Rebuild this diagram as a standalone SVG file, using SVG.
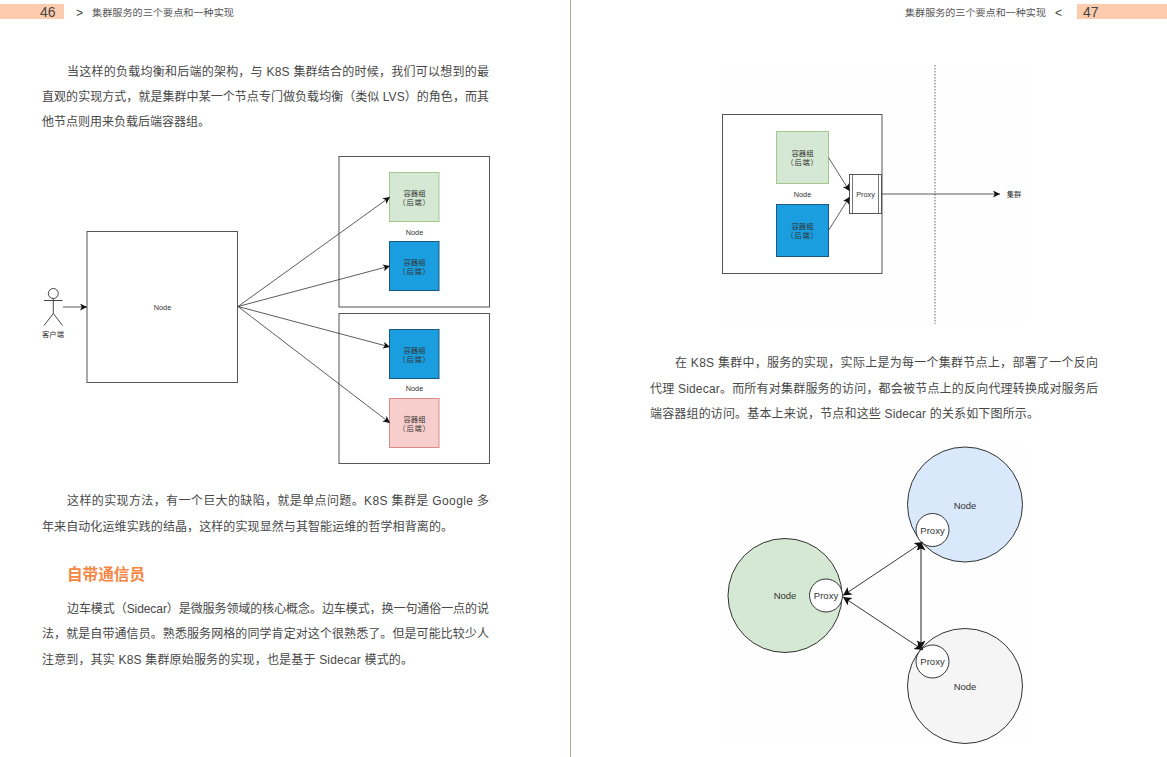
<svg xmlns="http://www.w3.org/2000/svg" width="1167" height="757" viewBox="0 0 1167 757">
<defs>
<marker id="a" markerWidth="8" markerHeight="8" refX="7" refY="3.5" orient="auto-start-reverse" markerUnits="userSpaceOnUse"><path d="M0 0L7 3.5L0 7L1.8 3.5Z" fill="#111"/></marker>
<marker id="m" markerWidth="10" markerHeight="10" refX="8.500" refY="4.500" orient="auto-start-reverse" markerUnits="userSpaceOnUse"><path d="M0 0L8.500 4.500L0 9L2 4.500Z" fill="#111"/></marker>
</defs>
<style>
text{font-family:"Liberation Sans","Noto Sans CJK SC",sans-serif;fill:#444}
.b{font-size:12px;fill:#484848}
.h{font-size:9.500px;fill:#555}
.s{font-size:7.300px;text-anchor:middle;fill:#333}
.p{letter-spacing:.8px}
.n{font-size:7.300px;text-anchor:middle;fill:#333}
.c{font-size:9.500px;text-anchor:middle;fill:#333}
.box{fill:#fff;stroke:#555;stroke-width:1}
.g{fill:#d5e8d4;stroke:#a4c98f;stroke-width:1}
.u{fill:#1a9ee0;stroke:#1a5a80;stroke-width:1}
.r{fill:#f8cecc;stroke:#d98a86;stroke-width:1}
.l{stroke:#333;stroke-width:.8;fill:none;marker-end:url(#a)}
.d{stroke:#222;stroke-width:.9;fill:none;marker-end:url(#m);marker-start:url(#m)}
.ci{stroke:#333;stroke-width:1}
</style>
<rect x="0" y="4" width="64" height="15" fill="#fdcbad"/>
<text x="40" y="17" font-size="14" fill="#555">46</text>
<text x="76" y="17" font-size="12" fill="#555">&gt;</text>
<text class="h" x="92" y="16" textLength="142" lengthAdjust="spacingAndGlyphs">集群服务的三个要点和一种实现</text>
<rect x="1077" y="4" width="90" height="15" fill="#fdcbad"/>
<text x="1083" y="17" font-size="14" fill="#555">47</text>
<text x="1055" y="17" font-size="12" fill="#555">&lt;</text>
<text class="h" x="905" y="16" textLength="141" lengthAdjust="spacingAndGlyphs">集群服务的三个要点和一种实现</text>
<line x1="570.500" y1="0" x2="570.500" y2="757" stroke="#b5a88f" stroke-width="1"/>

<g id="page-left-text">
<text class="b" x="67" y="76" textLength="422">当这样的负载均衡和后端的架构，与 K8S 集群结合的时候，我们可以想到的最</text>
<text class="b" x="42" y="101" textLength="447">直观的实现方式，就是集群中某一个节点专门做负载均衡（类似 LVS）的角色，而其</text>
<text class="b" x="42" y="126" textLength="168">他节点则用来负载后端容器组。</text>
<text class="b" x="67" y="505" textLength="422">这样的实现方法，有一个巨大的缺陷，就是单点问题。K8S 集群是 Google 多</text>
<text class="b" x="42" y="531" textLength="411">年来自动化运维实践的结晶，这样的实现显然与其智能运维的哲学相背离的。</text>
<text x="67" y="580" font-size="15.600" font-weight="700" style="fill:#f58642">自带通信员</text>
<text class="b" x="67" y="613" textLength="422">边车模式（Sidecar）是微服务领域的核心概念。边车模式，换一句通俗一点的说</text>
<text class="b" x="42" y="638" textLength="447">法，就是自带通信员。熟悉服务网格的同学肯定对这个很熟悉了。但是可能比较少人</text>
<text class="b" x="42" y="664" textLength="371">注意到，其实 K8S 集群原始服务的实现，也是基于 Sidecar 模式的。</text>
</g>
<g id="page-right-text">
<text class="b" x="675" y="367" textLength="423">在 K8S 集群中，服务的实现，实际上是为每一个集群节点上，部署了一个反向</text>
<text class="b" x="650" y="393" textLength="448">代理 Sidecar。而所有对集群服务的访问，都会被节点上的反向代理转换成对服务后</text>
<text class="b" x="650" y="418" textLength="389">端容器组的访问。基本上来说，节点和这些 Sidecar 的关系如下图所示。</text>
</g>

<g id="client">
<circle cx="53.300" cy="293.500" r="5" fill="#fff" stroke="#333" stroke-width=".9"/>
<path d="M53.300 298.500V313.500M44 300.500H62.500M53.300 313.500L44 325.500M53.300 313.500L62.500 325.500" fill="none" stroke="#333" stroke-width=".9"/>
<text class="s" x="53" y="337">客户端</text>
</g>
<g id="node-center"><rect class="box" x="87" y="231.500" width="150.500" height="151"/><text class="n" x="162.500" y="309.500">Node</text></g>
<g id="node-top">
<rect class="box" x="339" y="156.500" width="150.500" height="150.500"/>
<text class="n" x="414.500" y="234.500">Node</text>
<g id="pod-1"><rect class="g" x="389.500" y="172.500" width="49.500" height="49"/><text class="s" x="414.500" y="196">容器组</text><text class="s p" x="414.500" y="204.500">（后端）</text></g>
<g id="pod-2"><rect class="u" x="389.500" y="241.500" width="49.500" height="49"/><text class="s" x="414.500" y="265">容器组</text><text class="s p" x="414.500" y="273.500">（后端）</text></g>
</g>
<g id="node-bottom">
<rect class="box" x="339" y="313.500" width="150.500" height="150"/>
<text class="n" x="414.500" y="391">Node</text>
<g id="pod-3"><rect class="u" x="389.500" y="329.500" width="49.500" height="49"/><text class="s" x="414.500" y="353">容器组</text><text class="s p" x="414.500" y="361.500">（后端）</text></g>
<g id="pod-4"><rect class="r" x="389.500" y="398.500" width="49.500" height="49"/><text class="s" x="414.500" y="422">容器组</text><text class="s p" x="414.500" y="430.500">（后端）</text></g>
</g>

<g id="sidecar-node">
<rect x="722" y="64" width="305" height="260" fill="#fefefe"/>
<rect class="box" x="722.500" y="114.500" width="159.500" height="159"/>
<g id="pod-5"><rect class="g" x="776.500" y="131.500" width="52" height="52"/><text class="s" x="802.500" y="156">容器组</text><text class="s p" x="802.500" y="165">（后端）</text></g>
<g id="pod-6"><rect class="u" x="776.500" y="204.500" width="52" height="52"/><text class="s" x="802.500" y="229">容器组</text><text class="s p" x="802.500" y="238">（后端）</text></g>
<text class="n" x="802.500" y="196.500">Node</text>
<g id="proxy-box"><rect class="box" x="849.500" y="174.500" width="32" height="39"/><path d="M852.500 174.500V213.500M878.500 174.500V213.500" stroke="#555" stroke-width=".8"/><text class="n" x="865.500" y="197">Proxy</text></g>
<line x1="935" y1="65" x2="935" y2="324" stroke="#999" stroke-width="1.500" stroke-dasharray="1.500 1.500"/>
<text class="s" x="1014" y="197">集群</text>
</g>

<g id="mesh">
<rect x="722" y="444" width="305" height="300" fill="#fefefe"/>
<g id="node-green"><circle class="ci" cx="785" cy="595.500" r="57" fill="#d5e8d4"/><text class="c" x="785" y="599">Node</text></g>
<g id="node-blue"><circle class="ci" cx="965" cy="504.500" r="57.500" fill="#dae8fc"/><text class="c" x="965" y="509">Node</text></g>
<g id="node-gray"><circle class="ci" cx="965" cy="686" r="57.500" fill="#f5f5f5"/><text class="c" x="965" y="690">Node</text></g>
<g id="proxy-green"><circle class="ci" cx="826" cy="595.500" r="16.500" fill="#fff"/><text class="c" x="826" y="599">Proxy</text></g>
<g id="proxy-blue"><circle class="ci" cx="932.500" cy="530" r="16.500" fill="#fff"/><text class="c" x="932.500" y="533.500">Proxy</text></g>
<g id="proxy-gray"><circle class="ci" cx="932.500" cy="661.500" r="16.500" fill="#fff"/><text class="c" x="932.500" y="665">Proxy</text></g>
</g>

<g id="connectors">
<path class="l" d="M63 307H87"/>
<path class="l" d="M238 306.500L390 197"/>
<path class="l" d="M238 306.500L390 266"/>
<path class="l" d="M238 306.500L390 347"/>
<path class="l" d="M238 306.500L390 423"/>
<path class="l" d="M828.500 157.500L849.500 191"/>
<path class="l" d="M828.500 230.500L849.500 197"/>
<path class="l" d="M882 194H1000"/>
<path class="d" d="M843 595.500L923 542"/>
<path class="d" d="M843 597L923 650"/>
<path class="d" d="M921 542V649" style="stroke-width:1.300px;stroke:#555"/>
</g>
</svg>
